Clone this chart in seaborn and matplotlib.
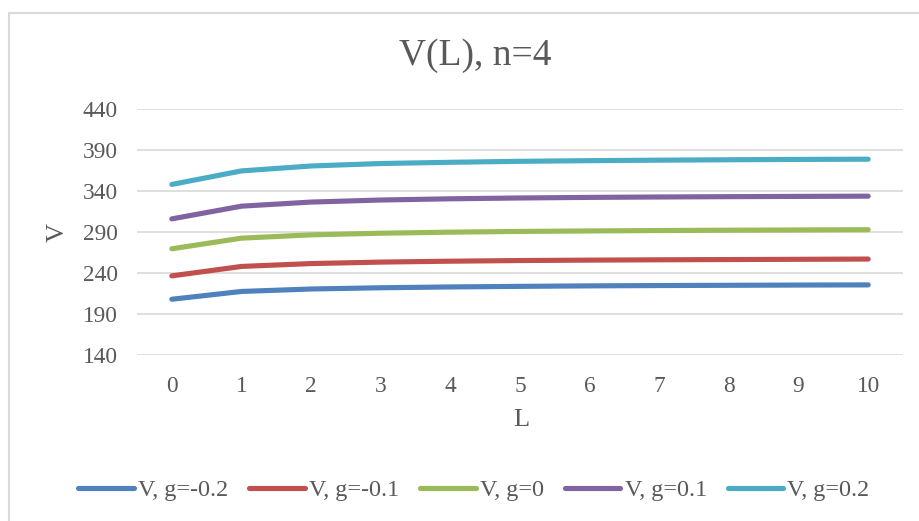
import matplotlib
matplotlib.use("Agg")
import matplotlib.pyplot as plt
import seaborn as sns
import pandas as pd
from matplotlib.patches import Rectangle

L_values = [0, 1, 2, 3, 4, 5, 6, 7, 8, 9, 10]
series_names = ["V, g=-0.2", "V, g=-0.1", "V, g=0", "V, g=0.1", "V, g=0.2"]
v_g_m02 = [208, 217.5, 220.5, 222, 223, 223.7, 224.3, 224.7, 225, 225.3, 225.5]
v_g_m01 = [236.5, 248, 251.5, 253.3, 254.4, 255.2, 255.7, 256.1, 256.4, 256.7, 257]
v_g_0 = [269.5, 282.5, 286.5, 288.5, 289.8, 290.7, 291.3, 291.8, 292.2, 292.5, 292.8]
v_g_p01 = [306, 321.5, 326.5, 329, 330.5, 331.5, 332.2, 332.7, 333.1, 333.4, 333.7]
v_g_p02 = [348, 364.5, 370.5, 373.5, 375, 376.2, 377, 377.6, 378.1, 378.5, 378.8]
y_ticks = [140, 190, 240, 290, 340, 390, 440]
colors = ["#4F81BD", "#C0504D", "#9BBB59", "#8064A2", "#4BACC6"]

rows = []
for name, vals in zip(series_names, [v_g_m02, v_g_m01, v_g_0, v_g_p01, v_g_p02]):
    for l, v in zip(L_values, vals):
        rows.append({"L": l, "V": v, "series": name})
df = pd.DataFrame(rows)

sns.set_theme(style="white")
plt.rcParams["font.family"] = ["Liberation Serif", "DejaVu Serif"]
text_color = "#595959"

fig = plt.figure(figsize=(9.2, 5.21), dpi=100)
ax = fig.add_axes([137 / 920, 1 - 355 / 521, (903 - 137) / 920, (355 - 109) / 521])

# outer chart frame
fig.patches.append(Rectangle((8.5 / 920, -0.1), 1.2, 1.1 - 12.5 / 521,
                             transform=fig.transFigure, fill=False,
                             edgecolor="#D9D9D9", linewidth=1.5))

sns.lineplot(data=df, x="L", y="V", hue="series", hue_order=series_names,
             palette=colors, linewidth=3.7, ax=ax, legend=False,
             solid_capstyle="round")

ax.set_xlim(-0.5, 10.5)
ax.set_ylim(140, 440)
ax.set_yticks(y_ticks)
ax.set_xticks(L_values)
ax.grid(axis="y", color="#D9D9D9", linewidth=1.2)
ax.set_axisbelow(True)
for s in ax.spines.values():
    s.set_visible(False)
ax.tick_params(axis="both", length=0, labelsize=16.8, labelcolor=text_color)
ax.tick_params(axis="y", pad=14)
ax.tick_params(axis="x", pad=15)

ax.set_xlabel("L", fontsize=19, color=text_color)
ax.set_ylabel("V", fontsize=19, color=text_color)
ax.xaxis.set_label_coords((521 - 137) / (903 - 137), -(420 - 355) / (355 - 109))
ax.yaxis.set_label_coords(-(137 - 58) / (903 - 137), (355 - 232) / (355 - 109))
ax.xaxis.label.set_va("center")
ax.yaxis.label.set_va("center")

fig.text(475 / 920, 1 - 56 / 521, "V(L), n=4", fontsize=27, color=text_color,
         ha="center", va="center")

handles = [plt.Line2D([], [], color=c, linewidth=3.7, solid_capstyle="round") for c in colors]
fig.legend(handles, series_names, loc="center", bbox_to_anchor=(474 / 920, 1 - 490 / 521),
           ncol=5, frameon=False, fontsize=17.4, labelcolor=text_color,
           handlelength=2.3, handletextpad=0.17, columnspacing=0.87)

fig.savefig("out.png", dpi=100)
